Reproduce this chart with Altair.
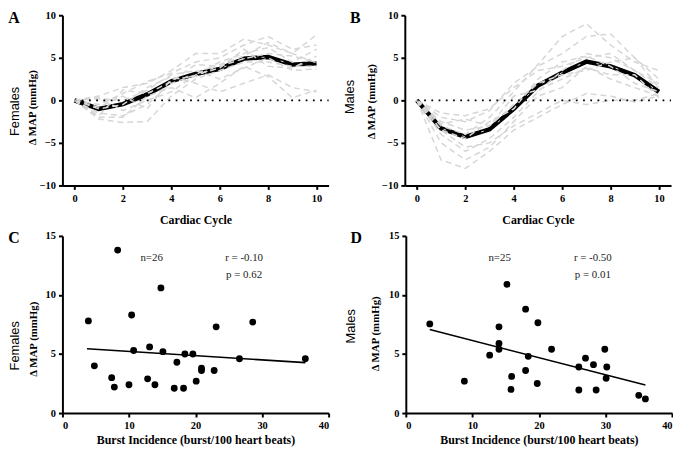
import altair as alt
import pandas as pd

# ---------------- data ----------------
cycles = list(range(11))

fem_mean = [0, -1.0, -0.45, 0.7, 2.25, 3.1, 3.7, 4.9, 5.1, 4.2, 4.35]
male_mean = [0, -3.3, -4.3, -3.4, -1.0, 1.75, 3.25, 4.55, 4.0, 2.95, 1.0]

fem_s1 = [0, 0.5, 1.5, 2.0, 3.5, 5.5, 5.5, 7.2, 6.5, 5.5, 7.7]
fem_s2 = [0, -0.5, 0.8, 2.2, 3.2, 4.5, 5.0, 6.5, 7.5, 6.0, 6.5]
fem_s3 = [0, -1.5, -1.8, -0.5, 2.0, 3.0, 4.5, 5.5, 6.2, 4.5, 6.0]
fem_s4 = [0, -2.2, -2.6, -2.5, 0.5, 2.5, 3.5, 4.5, 4.5, 4.0, 4.0]
fem_s5 = [0, 0.2, 0.0, 1.2, 3.0, 3.5, 2.5, 3.8, 5.0, 3.5, 3.7]
fem_s6 = [0, -1.0, -0.5, 1.5, 2.8, 2.0, 1.0, 2.0, 3.0, 1.5, 1.0]
fem_s7 = [0, -2.0, -2.0, 0.5, 1.5, 0.3, 2.0, 4.0, 2.8, 0.3, 1.2]
fem_s8 = [0, -1.8, 1.2, 0.8, 2.2, 4.2, 4.0, 4.9, 5.5, 5.2, 4.5]
fem_s9 = [0, 0.3, -1.2, 0.0, 1.0, 3.0, 3.8, 6.0, 4.0, 3.8, 5.2]
fem_s10 = [0, -0.8, 0.5, -1.0, 2.5, 2.8, 4.2, 5.2, 6.8, 5.5, 4.4]
fem_indiv = [fem_s1, fem_s2, fem_s3, fem_s4, fem_s5, fem_s6, fem_s7, fem_s8, fem_s9, fem_s10]

male_s1 = [0, -3.0, -4.0, -2.0, 1.0, 4.2, 7.5, 9.0, 6.5, 4.5, 3.5]
male_s2 = [0, -2.0, -2.5, -1.2, 2.0, 4.0, 5.5, 7.5, 7.8, 5.0, 2.5]
male_s3 = [0, -4.0, -6.0, -4.5, -2.0, 1.0, 3.5, 5.5, 5.0, 3.5, 1.5]
male_s4 = [0, -7.0, -8.0, -6.0, -3.5, -2.0, -0.5, 0.8, 0.5, -0.2, 0.5]
male_s5 = [0, -3.5, -5.5, -5.0, -3.0, -1.5, 0.0, -0.5, 0.0, 0.0, 0.8]
male_s6 = [0, -1.5, -1.8, -1.0, 1.5, 3.5, 4.0, 5.0, 5.5, 3.5, 2.0]
male_s7 = [0, -5.0, -7.0, -5.5, -2.5, 0.5, 1.5, 4.0, 2.5, 1.5, 0.5]
male_s8 = [0, -2.5, -3.5, -3.0, -0.5, 2.0, 3.0, 3.5, 4.5, 5.0, 1.5]
male_s9 = [0, -3.5, -4.5, -2.5, -1.0, 2.5, 4.5, 5.2, 4.0, 2.0, 1.0]
male_s10 = [0, -2.8, -2.2, -3.0, 0.5, 1.2, 2.5, 3.8, 3.0, 3.0, 0.3]
male_indiv = [male_s1, male_s2, male_s3, male_s4, male_s5, male_s6, male_s7, male_s8, male_s9, male_s10]

fem_burst = [3.9, 4.8, 8.3, 7.4, 7.8, 10.0, 10.4, 10.7, 12.8, 13.1, 13.9, 14.8, 15.1,
             16.8, 17.2, 18.2, 18.4, 19.6, 20.1, 20.9, 20.9, 22.8, 23.1, 26.6, 28.6, 36.5]
fem_dmap = [7.8, 4.0, 13.8, 3.0, 2.2, 2.4, 8.3, 5.3, 2.9, 5.6, 2.4, 10.6, 5.2,
            2.1, 4.3, 2.1, 5.0, 5.0, 2.7, 3.8, 3.6, 3.6, 7.3, 4.6, 7.7, 4.6]

male_burst = [3.6, 8.8, 12.6, 14.0, 14.0, 14.0, 15.2, 15.9, 15.8, 18.0, 18.0, 18.4, 19.75,
              19.85, 21.9, 26.0, 26.0, 27.0, 28.2, 28.6, 29.9, 30.1, 30.2, 35.0, 36.0]
male_dmap = [7.55, 2.7, 4.9, 7.3, 5.9, 5.4, 10.9, 3.1, 2.0, 8.8, 3.6, 4.8, 2.5,
             7.65, 5.4, 3.9, 1.95, 4.65, 4.1, 1.95, 5.4, 2.95, 3.9, 1.5, 1.2]

fem_fit_x = [3.7, 36.5]
fem_fit_y = [5.45, 4.27]
male_fit_x = [3.6, 36.0]
male_fit_y = [7.07, 2.37]

fem_stats = ["n=26", "r = -0.10", "p = 0.62"]
male_stats = ["n=25", "r = -0.50", "p = 0.01"]
stats_x = [13.4, 27.3, 27.3]
stats_x_m = [14.1, 28.1, 28.1]
stats_y = [13.1, 13.1, 11.7]

W = 269
H_TOP = 172
H_BOT = 179

SERIF = "Liberation Serif"
SANS = "Liberation Sans"

# per-panel placement of side texts: word x, letter x, letter y, word y frac, title x, title y frac
LAY_A = (-48, -49, 3, 0.565, -30, 0.54)
LAY_B = (-55, -50, 3, 0.48, -34, 0.505)
LAY_C = (-48, -49, 2, 0.62, -29, 0.58)
LAY_D = (-55, -50, 2, 0.51, -31, 0.55)


def side_text(word, letter, h, lay):
    wx, lx, ly, wyf, _, _ = lay
    t = alt.Chart(pd.DataFrame({"t": [word]})).mark_text(
        font=SANS, fontSize=13, angle=270, baseline="middle", align="center", color="black"
    ).encode(text="t:N", x=alt.value(wx), y=alt.value(h * wyf))
    l = alt.Chart(pd.DataFrame({"t": [letter]})).mark_text(
        font=SERIF, fontSize=16, fontWeight="bold", baseline="middle", align="center", color="black"
    ).encode(text="t:N", x=alt.value(lx), y=alt.value(ly))
    return t + l


def axis(values, title, orient_y, ty, tx=None):
    kw = dict(
        values=values,
        title=title,
        labelFont=SERIF,
        labelFontWeight="bold",
        labelFontSize=10.5,
        labelColor="black",
        titleFont=SERIF,
        titleFontWeight="bold",
        titleColor="black",
        titleBaseline="middle",
        domainColor="black",
        domainWidth=2,
        tickColor="black",
        tickWidth=2,
        tickSize=4,
        grid=False,
    )
    if orient_y:
        kw.update(labelPadding=3, titleX=tx, titleY=ty, titleAngle=270, titleFontSize=11)
    else:
        kw.update(labelPadding=4, titleY=ty, titleFontSize=12)
    return alt.Axis(**kw)


def line_panel(indiv, mean, word, letter, lay):
    rows = []
    for i, s in enumerate(indiv):
        for c, v in zip(cycles, s):
            rows.append({"cycle": c, "subject": i, "dmap": v})
    df = pd.DataFrame(rows)
    mdf = pd.DataFrame({"cycle": cycles, "dmap": mean})
    xs = alt.Scale(domain=[-0.5, 10.5], nice=False, zero=False)
    ys = alt.Scale(domain=[-10, 10], nice=False)
    xax = axis(cycles, "Cardiac Cycle", False, 34)
    yax = axis([-10, -5, 0, 5, 10], "Δ MAP (mmHg)", True, H_TOP * lay[5], lay[4])
    mean_l = alt.Chart(mdf).mark_line(color="black", strokeWidth=4.5).encode(
        x=alt.X("cycle:Q", scale=xs, axis=xax),
        y=alt.Y("dmap:Q", scale=ys, axis=yax),
    )
    indiv_l = alt.Chart(df).mark_line(
        color="#d6d6d6", strokeWidth=1.5, strokeDash=[6, 4]
    ).encode(x="cycle:Q", y="dmap:Q", detail="subject:N")
    zero = alt.Chart(pd.DataFrame({"x": [0], "x2": [10.5], "y": [0]})).mark_rule(
        color="black", strokeWidth=1.8, strokeDash=[1.8, 5.5]
    ).encode(x="x:Q", x2="x2:Q", y="y:Q")
    mean_d = alt.Chart(mdf).mark_line(
        color="#d8d8d8", strokeWidth=1.0, strokeDash=[3, 17]
    ).encode(x="cycle:Q", y="dmap:Q")
    return (mean_l + indiv_l + zero + mean_d + side_text(word, letter, H_TOP, lay)).properties(
        width=W, height=H_TOP
    )


def scatter_panel(bx, dy, fx, fy, stats, sx, word, letter, lay):
    pdf = pd.DataFrame({"burst": bx, "dmap": dy})
    fdf = pd.DataFrame({"burst": fx, "dmap": fy})
    sdf = pd.DataFrame({"burst": sx, "dmap": stats_y, "label": stats})
    xs = alt.Scale(domain=[0, 40], nice=False)
    ys = alt.Scale(domain=[0, 15], nice=False)
    xax = axis([0, 10, 20, 30, 40], "Burst Incidence (burst/100 heart beats)", False, 27)
    yax = axis([0, 5, 10, 15], "Δ MAP (mmHg)", True, H_BOT * lay[5], lay[4])
    pts = alt.Chart(pdf).mark_circle(size=48, color="black", opacity=1).encode(
        x=alt.X("burst:Q", scale=xs, axis=xax),
        y=alt.Y("dmap:Q", scale=ys, axis=yax),
    )
    fit = alt.Chart(fdf).mark_line(color="black", strokeWidth=1.6).encode(
        x="burst:Q", y="dmap:Q"
    )
    txt = alt.Chart(sdf).mark_text(font=SERIF, fontSize=11, color="#222222").encode(
        x="burst:Q", y="dmap:Q", text="label:N"
    )
    return (pts + fit + txt + side_text(word, letter, H_BOT, lay)).properties(
        width=W, height=H_BOT
    )


a = line_panel(fem_indiv, fem_mean, "Females", "A", LAY_A)
b = line_panel(male_indiv, male_mean, "Males", "B", LAY_B)
c = scatter_panel(fem_burst, fem_dmap, fem_fit_x, fem_fit_y, fem_stats, stats_x, "Females", "C", LAY_C)
d = scatter_panel(male_burst, male_dmap, male_fit_x, male_fit_y, male_stats, stats_x_m, "Males", "D", LAY_D)

top = alt.hconcat(a, b, spacing=15)
bottom = alt.hconcat(c, d, spacing=15)

chart = alt.vconcat(top, bottom, spacing=5).properties(padding=0).configure_view(
    stroke=None
)

chart.save("out.html", embed_options={"renderer": "svg", "actions": False})
